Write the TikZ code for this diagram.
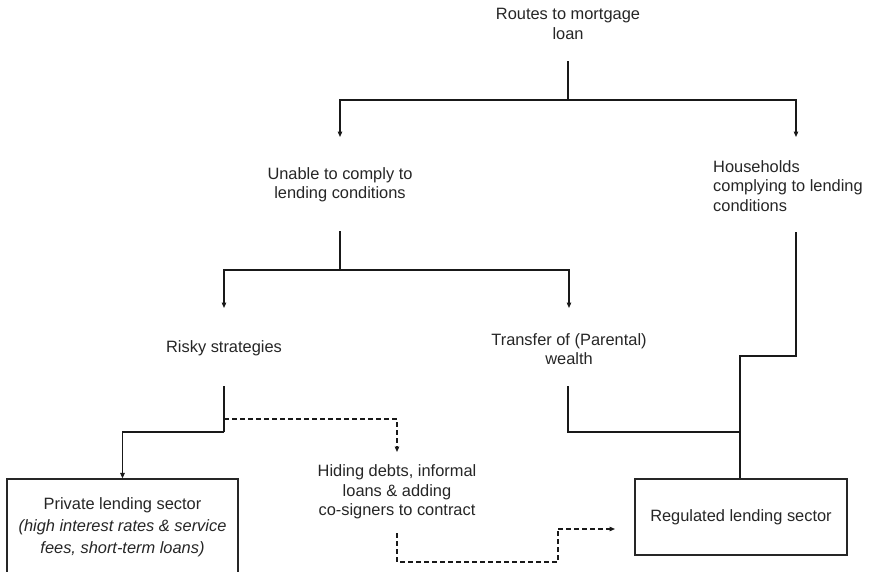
\documentclass[tikz,border=0pt]{standalone}
\usepackage{fontspec}
\setmainfont{Liberation Sans}
\usetikzlibrary{arrows.meta}
\begin{document}
\begin{tikzpicture}[x=1pt,y=-1pt,
  txt/.style={inner sep=0pt, align=center, text=black!85, font=\fontsize{16.4}{19.5}\selectfont},
  boxnode/.style={draw=black!85, line width=1.2pt, inner sep=0pt, align=center, text=black!85, font=\fontsize{16.4}{22}\selectfont},
  conn/.style={draw=black!90, line width=1.2pt},
  arr/.style={conn, -{Triangle[length=5.5pt,width=4.5pt]}},
  dsh/.style={conn, dash pattern=on 5pt off 3pt},
  darr/.style={dsh, -{Triangle[length=5.5pt,width=4.5pt]}}]
\useasboundingbox (0,0) rectangle (871,571);
\clip (0,0) rectangle (871,571);
\fill[white] (0,0) rectangle (871,571);

% nodes
\node[txt] (routes) at (568,24) {Routes to mortgage\\loan};
\node[txt] (unable) at (340,185) {Unable to comply to\\lending conditions};
\node[txt, align=left, anchor=west] (house) at (713,186) {Households\\complying to lending\\conditions};
\node[txt] (risky) at (224,348) {Risky strategies};
\node[txt] (transfer) at (569,349) {Transfer of (Parental)\\wealth};
\node[txt] (hiding) at (397,492) {Hiding debts, informal\\loans \& adding\\co-signers to contract};
\node[boxnode, minimum width=231pt, minimum height=96pt] (private) at (122.5,527)
  {Private lending sector\\\textit{(high interest rates \& service}\\\textit{fees, short-term loans)}};
\node[boxnode, minimum width=212pt, minimum height=76pt] (regulated) at (741,517) {Regulated lending sector};

% free ends and junctions
\coordinate (routesout) at (568,61);
\coordinate (j1) at (568,100);
\coordinate (unablein) at (340,137);
\coordinate (housein) at (796,137);
\coordinate (unableout) at (340,231);
\coordinate (j2) at (340,270);
\coordinate (riskyin) at (224,308);
\coordinate (transferin) at (569,308);
\coordinate (riskyout) at (224,386);
\coordinate (j3) at (224,432);
\coordinate (j3d) at (224,419);
\coordinate (hidingin) at (397,452);
\coordinate (transferout) at (568,386);
\coordinate (j4) at (740,432);
\coordinate (houseout) at (796,232);
\coordinate (j5) at (796,356);
\coordinate (hidingout) at (397,533);
\coordinate (j6) at (397,562);
\coordinate (j7) at (558,529);
\coordinate (regin) at (615,529);

% connectors
\draw[conn] (routesout) -- (j1);
\draw[arr] (j1) -| (unablein);
\draw[arr] (j1) -| (housein);
\draw[conn] (unableout) -- (j2);
\draw[arr] (j2) -| (riskyin);
\draw[arr] (j2) -| (transferin);
\draw[conn] (riskyout) -- (j3);
\draw[arr] (j3) -| (private.north);
\draw[darr] (j3d) -| (hidingin);
\draw[conn] (transferout) |- (j4);
\draw[conn] (houseout) -- (j5) -| (j4);
\draw[conn] (j4) -- (j4 |- regulated.north);
\draw[dsh] (hidingout) -- (j6) -| (j7);
\draw[darr] (j7) -- (regin);
\end{tikzpicture}
\end{document}
